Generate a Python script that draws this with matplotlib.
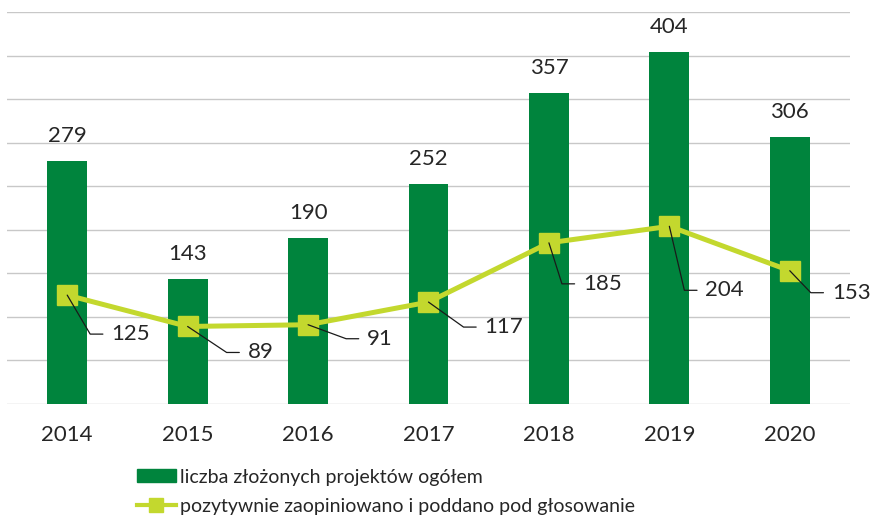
import numpy as np
import matplotlib
matplotlib.use("Agg")
from matplotlib import pyplot as plt
from matplotlib.lines import Line2D
from matplotlib.patches import Patch

years = ["2014", "2015", "2016", "2017", "2018", "2019", "2020"]
submitted = [279, 143, 190, 252, 357, 404, 306]
approved = [125, 89, 91, 117, 185, 204, 153]
bar_label = "liczba złożonych projektów ogółem"
line_label = "pozytywnie zaopiniowano i poddano pod głosowanie"

# leader-line corner offsets (pixels, from marker centre) for the line labels
corner_off = [(23, -39), (39, -26), (38, -14), (35, -25), (13, -41), (15, -64), (21, -22)]

DARK = "#00843d"
LIME = "#c3d82e"
TXT = "#262626"

plt.rcParams["font.family"] = ["Lato", "DejaVu Sans"]
fig = plt.figure(figsize=(8.76, 5.21), dpi=100)
ax = fig.add_axes([7 / 876, 1 - 404 / 521, 843 / 876, (404 - 12) / 521])

x = np.arange(len(years))
ax.bar(x, submitted, width=0.33, color=DARK, zorder=2)
ax.plot(x, approved, color=LIME, lw=3.6, marker="s", ms=14, zorder=3)

for i, v in enumerate(submitted):
    ax.annotate(str(v), (i, v), xytext=(0, 19), textcoords="offset pixels",
                ha="center", va="baseline", fontsize=16, color=TXT)

for i, v in enumerate(approved):
    cdx, cdy = corner_off[i]
    ang = np.degrees(np.arctan2(cdy, cdx))
    ax.annotate(str(v), (i, v), xytext=(cdx + 21, cdy), textcoords="offset pixels",
                ha="left", va="center", fontsize=16, color=TXT, zorder=4,
                arrowprops=dict(arrowstyle="-", color="#1a1a1a", lw=0.9,
                                connectionstyle="angle,angleA=0,angleB=%.1f,rad=0" % ang,
                                relpos=(0, 0.5), patchA=None, shrinkA=6, shrinkB=0))

ax.set_xlim(-0.5, 6.5)
ax.set_ylim(0, 450)
ax.set_yticks(np.arange(0, 451, 50))
ax.yaxis.grid(True, color="#c8c8c8", lw=1.0, zorder=0)
ax.set_yticklabels([])
ax.tick_params(axis="y", length=0)
ax.set_xticks(x)
ax.set_xticklabels(years, fontsize=16, color=TXT)
ax.tick_params(axis="x", length=0, pad=15)
for s in ax.spines.values():
    s.set_visible(False)

handles = [Patch(color=DARK, label=bar_label),
           Line2D([], [], color=LIME, lw=3, marker="s", ms=10, label=line_label)]
leg = fig.legend(handles=handles, loc="upper left", bbox_to_anchor=(119 / 876, 1 - 451 / 521),
                 frameon=False, fontsize=14,
                 handlelength=2.05, handleheight=0.65,
                 handletextpad=0.2, labelspacing=0.65, labelcolor=TXT)

fig.savefig("out.png", dpi=100)
